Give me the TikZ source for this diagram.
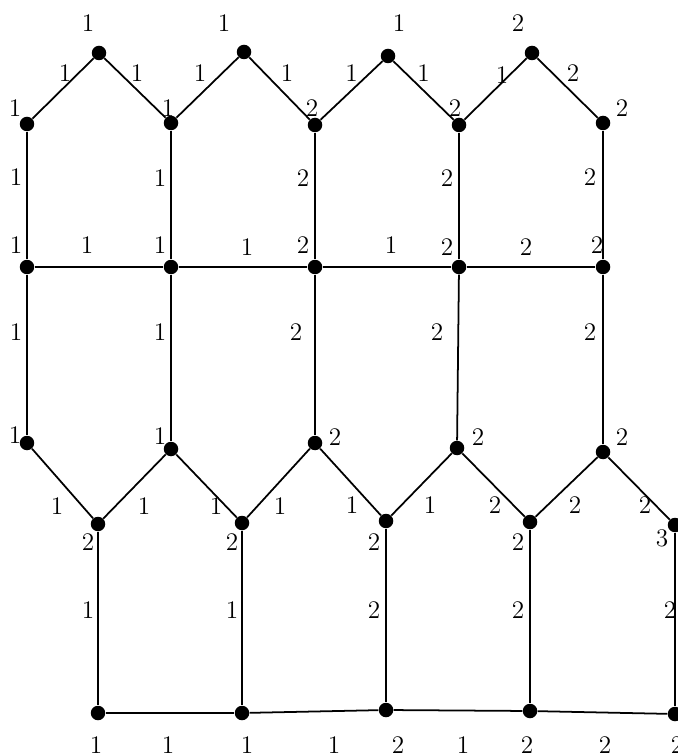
\documentclass[tikz,border=0pt]{standalone}
\usepackage{tikz}
\usetikzlibrary{backgrounds}
\tikzset{
  % graf
  gv/.style={circle,fill=black,inner sep=0pt,minimum size=0.29cm},
  ge/.style={draw=black,line width=1pt},
  gw/.style={font=\Large,inner sep=1pt},
}
\begin{document}
\begin{tikzpicture}[x=0.02cm,y=-0.02cm]
  \useasboundingbox (0,0) rectangle (678,756);
  \clip (0,0) rectangle (678,756);
  % hörn
  \node[gv] (p1) at (99,53) {};
  \node[gv] (p2) at (244,52) {};
  \node[gv] (p3) at (388,56) {};
  \node[gv] (p4) at (532,53) {};
  \node[gv] (u1) at (27,124) {};
  \node[gv] (u2) at (171,123) {};
  \node[gv] (u3) at (315,125) {};
  \node[gv] (u4) at (459,125) {};
  \node[gv] (u5) at (603,123) {};
  \node[gv] (m1) at (27,267) {};
  \node[gv] (m2) at (171,267) {};
  \node[gv] (m3) at (315,267) {};
  \node[gv] (m4) at (459,267) {};
  \node[gv] (m5) at (603,267) {};
  \node[gv] (l1) at (27,443) {};
  \node[gv] (l2) at (171,449) {};
  \node[gv] (l3) at (315,443) {};
  \node[gv] (l4) at (457,448) {};
  \node[gv] (l5) at (603,452) {};
  \node[gv] (s1) at (98,524) {};
  \node[gv] (s2) at (242,523) {};
  \node[gv] (s3) at (386,521) {};
  \node[gv] (s4) at (530,522) {};
  \node[gv] (s5) at (675,525) {};
  \node[gv] (b1) at (98,713) {};
  \node[gv] (b2) at (242,713) {};
  \node[gv] (b3) at (386,710) {};
  \node[gv] (b4) at (530,711) {};
  \node[gv] (b5) at (675,714) {};
  % hörnvikter
  \foreach \v/\dx/\dy/\t in {p1/-11/-30/1, p2/-20/-29/1, p3/11/-33/1, p4/-14/-30/2,
      u1/-12/-16/1, u2/-3/-15/1, u3/-3/-17/2, u4/-4/-17/2, u5/19/-15/2,
      m1/-11/-22/1, m2/-11/-22/1, m3/-12/-22/2, m4/-12/-20/2, m5/-6/-22/2,
      l1/-12/-8/1, l2/-11/-13/1, l3/20/-6/2, l4/21/-11/2, l5/19/-15/2,
      s1/-10/18/2, s2/-10/19/2, s3/-12/21/2, s4/-12/20/2, s5/-13/13/3,
      b1/-2/32/1, b2/5/32/1, b3/12/35/2, b4/-3/34/2, b5/2/31/2}
    \path (\v) ++(\dx,\dy) node[gw]{\t};
  \begin{scope}[on background layer]
  % övre sicksack
  \draw[ge] (u1) -- node[gw,shift={(2,-15.5)}]{1} (p1);
  \draw[ge] (p1) -- node[gw,shift={(2,-15)}]{1} (u2);
  \draw[ge] (u2) -- node[gw,shift={(-7.5,-14.5)}]{1} (p2);
  \draw[ge] (p2) -- node[gw,shift={(7.5,-15.5)}]{1} (u3);
  \draw[ge] (u3) -- node[gw,shift={(0,-17.5)}]{1} (p3);
  \draw[ge] (p3) -- node[gw,shift={(0,-17.5)}]{1} (u4);
  \draw[ge] (u4) -- node[gw,shift={(6.5,-14)}]{1} (p4);
  \draw[ge] (p4) -- node[gw,shift={(5.5,-15)}]{2} (u5);
  % lodräta, övre
  \draw[ge] (u1) -- node[gw,shift={(-11,-18)}]{1} (m1);
  \draw[ge] (u2) -- node[gw,shift={(-11,-17)}]{1} (m2);
  \draw[ge] (u3) -- node[gw,shift={(-12,-18)}]{2} (m3);
  \draw[ge] (u4) -- node[gw,shift={(-12,-18)}]{2} (m4);
  \draw[ge] (u5) -- node[gw,shift={(-13,-18)}]{2} (m5);
  % mittlinjen
  \draw[ge] (m1) -- node[gw,shift={(-12,-22)}]{1} (m2);
  \draw[ge] (m2) -- node[gw,shift={(4,-20)}]{1} (m3);
  \draw[ge] (m3) -- node[gw,shift={(4,-22)}]{1} (m4);
  \draw[ge] (m4) -- node[gw,shift={(-5,-20)}]{2} (m5);
  % lodräta, mitten
  \draw[ge] (m1) -- node[gw,shift={(-11,-23)}]{1} (l1);
  \draw[ge] (m2) -- node[gw,shift={(-11,-26)}]{1} (l2);
  \draw[ge] (m3) -- node[gw,shift={(-19,-23)}]{2} (l3);
  \draw[ge] (m4) -- node[gw,shift={(-21,-25)}]{2} (l4);
  \draw[ge] (m5) -- node[gw,shift={(-13,-27)}]{2} (l5);
  % undre sicksack
  \draw[ge] (l1) -- node[gw,shift={(-5.5,22.5)}]{1} (s1);
  \draw[ge] (s1) -- node[gw,shift={(9.5,19.5)}]{1} (l2);
  \draw[ge] (l2) -- node[gw,shift={(9.5,20)}]{1} (s2);
  \draw[ge] (s2) -- node[gw,shift={(1.5,23)}]{1} (l3);
  \draw[ge] (l3) -- node[gw,shift={(1.5,23)}]{1} (s3);
  \draw[ge] (s3) -- node[gw,shift={(8.5,20.5)}]{1} (l4);
  \draw[ge] (l4) -- node[gw,shift={(1.5,20)}]{2} (s4);
  \draw[ge] (s4) -- node[gw,shift={(8.5,18)}]{2} (l5);
  \draw[ge] (l5) -- node[gw,shift={(6,16.5)}]{2} (s5);
  % lodräta, nedre
  \draw[ge] (s1) -- node[gw,shift={(-10,-8)}]{1} (b1);
  \draw[ge] (s2) -- node[gw,shift={(-10,-8)}]{1} (b2);
  \draw[ge] (s3) -- node[gw,shift={(-12,-5.5)}]{2} (b3);
  \draw[ge] (s4) -- node[gw,shift={(-12,-6.5)}]{2} (b4);
  \draw[ge] (s5) -- node[gw,shift={(-5,-9.5)}]{2} (b5);
  % bottenlinjen
  \draw[ge] (b1) -- node[gw,shift={(-2,32)}]{1} (b2);
  \draw[ge] (b2) -- node[gw,shift={(20,33.5)}]{1} (b3);
  \draw[ge] (b3) -- node[gw,shift={(5,34.5)}]{1} (b4);
  \draw[ge] (b4) -- node[gw,shift={(2.5,32.5)}]{2} (b5);
  \end{scope}
\end{tikzpicture}
\end{document}
